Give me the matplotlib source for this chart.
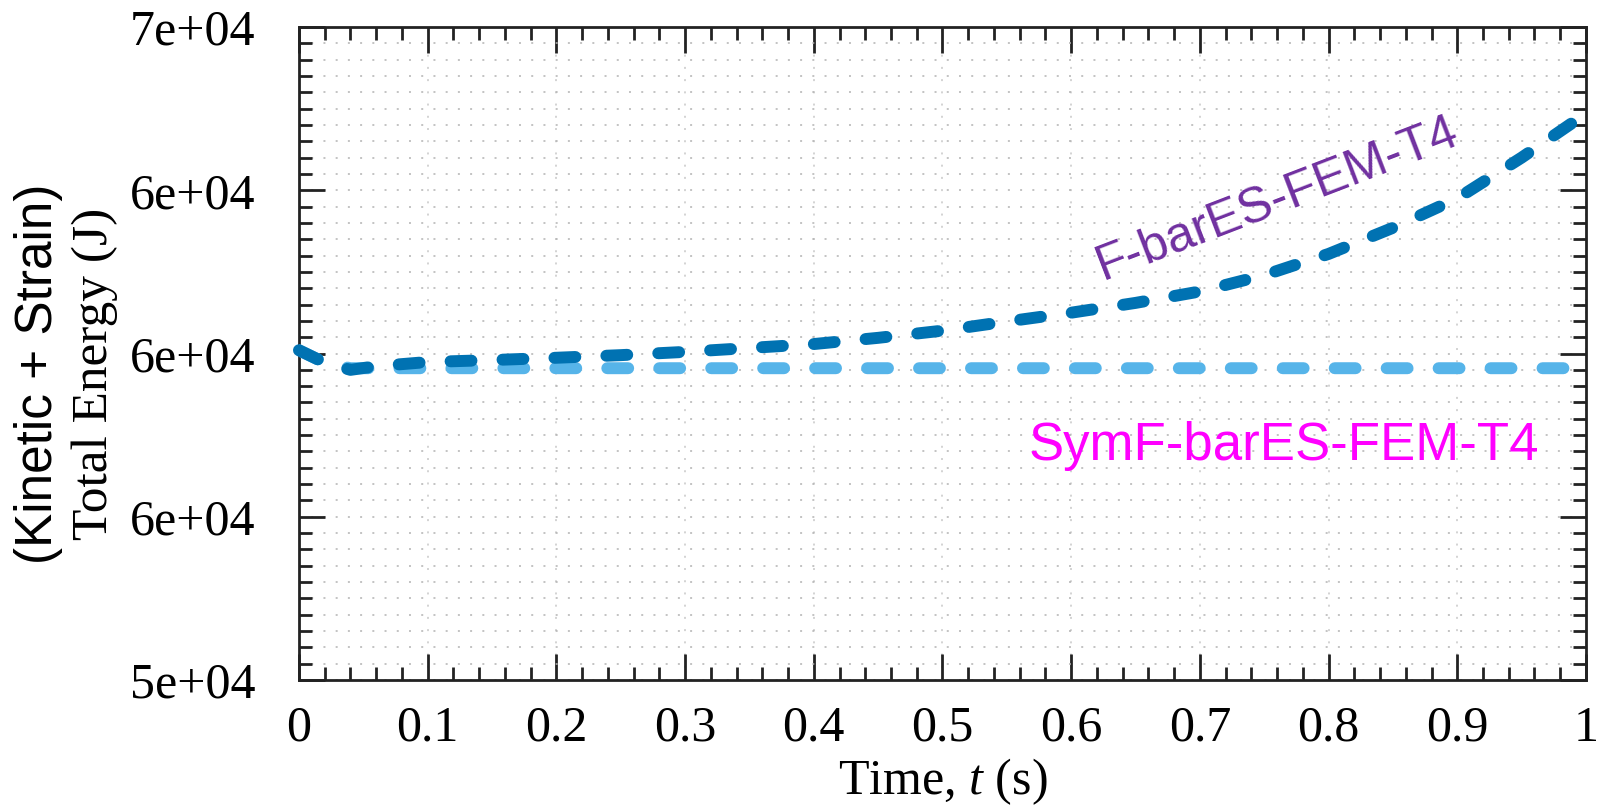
import matplotlib
matplotlib.use("Agg")
import matplotlib.pyplot as plt
from matplotlib.ticker import MultipleLocator, FuncFormatter

# Total (kinetic + strain) energy history of the two formulations
time_s = [0.00, 0.02, 0.04, 0.06, 0.10, 0.15, 0.20, 0.25, 0.30, 0.35, 0.40, 0.45,
          0.50, 0.55, 0.60, 0.65, 0.70, 0.75, 0.80, 0.85, 0.90, 0.95, 1.00]
energy_fbar = [60100, 59720, 59500, 59610, 59740, 59800, 59870, 59950, 60050, 60170,
               60290, 60480, 60700, 60980, 61250, 61550, 61900, 62400, 63050, 63850,
               64750, 66000, 67350]
energy_symfbar = [60100, 59720, 59550, 59550, 59550, 59550, 59550, 59550, 59550, 59550,
                  59550, 59550, 59550, 59550, 59550, 59550, 59550, 59550, 59550, 59550,
                  59550, 59550, 59550]

label_fbar = "F-barES-FEM-T4"
label_symfbar = "SymF-barES-FEM-T4"

plt.rcParams["font.family"] = ["Liberation Serif", "DejaVu Serif"]
plt.rcParams["mathtext.fontset"] = "custom"
plt.rcParams["mathtext.rm"] = "Liberation Serif"
plt.rcParams["mathtext.it"] = "Liberation Serif:italic"

fig = plt.figure(figsize=(15.97, 8.11), dpi=100)
ax = fig.add_axes([0.1872, 0.1615, 0.8059, 0.8052])

ax.set_xlim(0, 1)
ax.set_ylim(50000, 70000)
ax.xaxis.set_major_locator(MultipleLocator(0.1))
ax.xaxis.set_minor_locator(MultipleLocator(0.02))
ax.yaxis.set_major_locator(MultipleLocator(5000))
ax.yaxis.set_minor_locator(MultipleLocator(500))
ax.xaxis.set_major_formatter(FuncFormatter(lambda v, p: f"{v:g}"))
ax.yaxis.set_major_formatter(FuncFormatter(lambda v, p: f"{v:.0e}"))

ax.tick_params(which="both", direction="in", top=True, right=True, width=2.0,
               color="#222222", labelsize=36)
ax.tick_params(which="major", length=18.7)
ax.tick_params(which="minor", length=9.4)
ax.tick_params(axis="y", pad=31.5)
ax.tick_params(axis="x", pad=18)
for sp in ax.spines.values():
    sp.set_linewidth(2.0)
    sp.set_color("#222222")

# dotted background grid
ax.set_axisbelow(True)
dot = (0, (1.3, 6.7))
ax.grid(which="both", axis="y", linestyle=dot, color="#b3b3b3", linewidth=1.1)
ax.grid(which="major", axis="x", linestyle=dot, color="#c8c8c8", linewidth=1.1)

ax.plot(time_s, energy_symfbar, color="#56B4E9", linewidth=8.6,
        dashes=(1.75, 2.6), dash_capstyle="round", zorder=3)
ax.plot(time_s, energy_fbar, color="#0072B2", linewidth=8.6,
        dashes=(1.75, 2.6), dash_capstyle="round", zorder=4, clip_on=False)

ax.text(0.625, 62250, label_fbar, rotation=21, rotation_mode="anchor",
        ha="left", va="baseline", color="#7030A0", fontsize=36,
        family="Liberation Sans", zorder=5)
ax.text(0.567, 56750, label_symfbar, ha="left", va="baseline",
        color="#FF00FF", fontsize=38, family="Liberation Sans", zorder=5)

ax.set_xlabel(r"Time, $t$ (s)", fontsize=36)
ax.xaxis.set_label_coords(0.5, -0.1755)
ax.xaxis.label.set_va("baseline")

ax.set_ylabel("Total Energy (J)", fontsize=37)
ax.yaxis.set_label_coords(-0.1585, 0.4686)
ax.yaxis.label.set_va("center")
fig.text(39 / 1597, 1 - 374 / 811, "(Kinetic + Strain)", rotation=90,
         ha="center", va="center", fontsize=37, family="Liberation Sans")

fig.savefig("out.png", dpi=100)
